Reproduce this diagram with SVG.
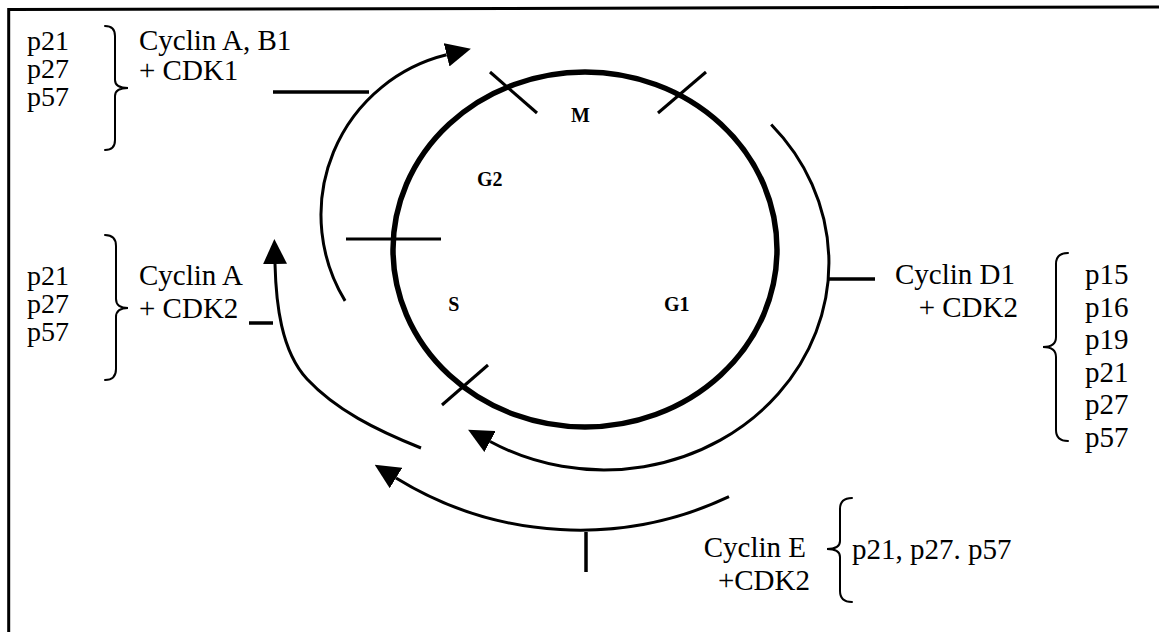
<svg xmlns="http://www.w3.org/2000/svg" width="1159" height="632" viewBox="0 0 1159 632">
<style>
  .t { font-family: "Liberation Serif", "Times New Roman", serif; font-size: 29px; fill: #000; }
  .s { font-size: 28px; }
  .lbl { font-family: "Liberation Serif", "Times New Roman", serif; font-size: 20px; font-weight: bold; fill: #000; text-anchor: middle; }
  .brace { fill: none; stroke: #000; stroke-width: 2; stroke-linecap: round; }
  .arc { fill: none; stroke: #000; stroke-width: 3; }
  .tick { fill: none; stroke: #000; stroke-width: 3; }
  .conn { fill: none; stroke: #000; stroke-width: 3.5; }
</style>
<defs>
  <marker id="ah" markerUnits="userSpaceOnUse" markerWidth="25" markerHeight="24" viewBox="0 0 25 24" refX="0" refY="12" orient="auto">
    <path d="M0,0 L25,12 L0,24 z" fill="#000"/>
  </marker>
</defs>
<rect width="1159" height="632" fill="#fff"/>
<path d="M8.7,632 L8.7,9.5 L1159,7" fill="none" stroke="#000" stroke-width="3"/>

<g id="cycle">
  <ellipse cx="585" cy="249.5" rx="192" ry="177.5" fill="none" stroke="#000" stroke-width="5.5"/>
  <line class="tick" x1="490" y1="72" x2="537" y2="113"/>
  <line class="tick" x1="706" y1="72" x2="658" y2="113"/>
  <line class="tick" x1="346" y1="239" x2="441" y2="239"/>
  <line class="tick" x1="488" y1="365" x2="442" y2="405"/>
  <text class="lbl" x="580.5" y="122">M</text>
  <text class="lbl" x="489.7" y="185.7">G2</text>
  <text class="lbl" x="453.8" y="311">S</text>
  <text class="lbl" x="676.7" y="311">G1</text>
</g>

<g id="connectors">
  <path class="arc" d="M345.1,300.9 A165,165 0 0 1 446.6,54.8" marker-end="url(#ah)"/>
  <path class="arc" d="M771.2,124.5 A225,207 0 0 1 490.1,441.5" marker-end="url(#ah)"/>
  <path class="arc" d="M421,448 C376,430 336,410 307,379 C281,351 276,303 275,264" marker-end="url(#ah)"/>
  <path class="arc" d="M729,496.7 A350,350 0 0 1 396,478" marker-end="url(#ah)"/>
  <line class="conn" x1="273" y1="92" x2="369" y2="92"/>
  <line class="conn" x1="249" y1="323" x2="273" y2="323"/>
  <line class="conn" x1="827" y1="279" x2="875" y2="279"/>
  <line class="conn" x1="586" y1="532" x2="586" y2="572"/>
</g>

<g id="node-cyclinAB1">
  <text class="t s" x="27" y="50">p21</text>
  <text class="t s" x="27" y="78">p27</text>
  <text class="t s" x="27" y="106">p57</text>
  <path class="brace" d="M105,26 Q115,26 115,36 L115,80 Q115,88 128,88 Q115,88 115,96 L115,140 Q115,150 105,150"/>
  <text class="t" x="139" y="50">Cyclin A, B1</text>
  <text class="t" x="139" y="80">+ CDK1</text>
</g>

<g id="node-cyclinA">
  <text class="t s" x="27" y="285">p21</text>
  <text class="t s" x="27" y="313">p27</text>
  <text class="t s" x="27" y="341">p57</text>
  <path class="brace" d="M105,235 Q116,235 116,246 L116,299 Q116,308 128,308 Q116,308 116,317 L116,369 Q116,380 105,380"/>
  <text class="t" x="139" y="285">Cyclin A</text>
  <text class="t" x="139" y="318">+ CDK2</text>
</g>

<g id="node-cyclinD1">
  <text class="t" x="1015" y="284" text-anchor="end">Cyclin D1</text>
  <text class="t" x="1018" y="317" text-anchor="end">+ CDK2</text>
  <path class="brace" d="M1068,253 Q1056,253 1056,264 L1056,337 Q1056,347 1043,347 Q1056,347 1056,357 L1056,430 Q1056,441 1068,441"/>
  <text class="t" x="1085" y="284">p15</text>
  <text class="t" x="1085" y="316.5">p16</text>
  <text class="t" x="1085" y="349">p19</text>
  <text class="t" x="1085" y="381.5">p21</text>
  <text class="t" x="1085" y="414">p27</text>
  <text class="t" x="1085" y="446.5">p57</text>
</g>

<g id="node-cyclinE">
  <text class="t" x="806" y="557" text-anchor="end">Cyclin E</text>
  <text class="t" x="810" y="590" text-anchor="end">+CDK2</text>
  <path class="brace" d="M852,498 Q840,498 840,509 L840,541 Q840,549 827,549 Q840,549 840,557 L840,591 Q840,602 852,602"/>
  <text class="t" x="852" y="559">p21, p27. p57</text>
</g>
</svg>
